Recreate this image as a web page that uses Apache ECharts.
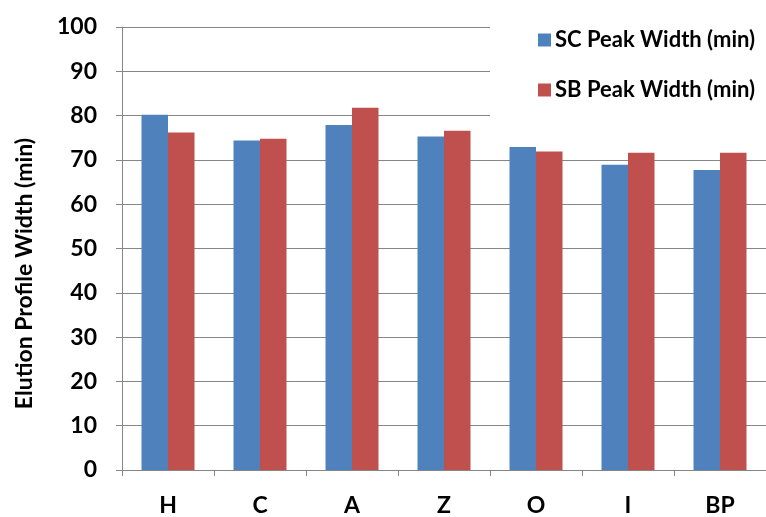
<!DOCTYPE html>
<html><head><meta charset="utf-8">
<script src="https://cdn.jsdelivr.net/npm/echarts@6/dist/echarts.min.js"></script>
<style>html,body{margin:0;padding:0;background:#fff}#c{width:766px;height:517px}</style>
</head><body><div id="c"></div>
<script>
const categories = ['H', 'C', 'A', 'Z', 'O', 'I', 'BP'];
const scPeakWidth = [80.2, 74.4, 77.9, 75.3, 72.9, 68.9, 67.7];
const sbPeakWidth = [76.2, 74.8, 81.8, 76.6, 71.9, 71.6, 71.6];
const seriesNames = ['SC Peak Width (min)', 'SB Peak Width (min)'];
const yTitle = 'Elution Profile Width (min)';

const font = 'Lato, "Open Sans", sans-serif';
const chart = echarts.init(document.getElementById('c'));
chart.setOption({
  animation: false,
  backgroundColor: '#fff',
  grid: { left: 122, top: 27, width: 652, height: 445 },
  legend: {
    data: seriesNames,
    orient: 'vertical',
    left: 490, top: 26,
    padding: [3, 30, 18, 48],
    backgroundColor: '#fff',
    itemWidth: 13, itemHeight: 13, itemGap: 28,
    icon: 'rect',
    textStyle: { fontFamily: font, fontWeight: 'bold', fontSize: 22, color: '#000', padding: [0, 0, 0, -1] }
  },
  xAxis: {
    type: 'category', data: categories,
    axisLine: { lineStyle: { color: '#868686', width: 1 } },
    axisTick: { show: true, length: 6, lineStyle: { color: '#868686' } },
    axisLabel: { fontFamily: font, fontWeight: 'bold', fontSize: 23, color: '#000', margin: 24 }
  },
  yAxis: {
    type: 'value', min: 0, max: 100, interval: 10,
    name: yTitle, nameLocation: 'middle', nameGap: 86, nameRotate: 90,
    nameTextStyle: { fontFamily: font, fontWeight: 'bold', fontSize: 23, color: '#000', padding: [0, 50, 0, 0] },
    axisLine: { show: true, lineStyle: { color: '#868686' } },
    axisTick: { show: true, length: 6, inside: false, lineStyle: { color: '#868686' } },
    axisLabel: { fontFamily: font, fontWeight: 'bold', fontSize: 23, color: '#000', margin: 25 },
    splitLine: { lineStyle: { color: '#868686', width: 1 } }
  },
  series: [
    { name: seriesNames[0], type: 'bar', data: scPeakWidth, barWidth: 26.5, barGap: '0%', itemStyle: { color: '#4F81BD' }, z: 1 },
    { name: seriesNames[1], type: 'bar', data: sbPeakWidth, barWidth: 26.5, barGap: '0%', itemStyle: { color: '#C0504D' }, z: 1 }
  ]
});
</script></body></html>
